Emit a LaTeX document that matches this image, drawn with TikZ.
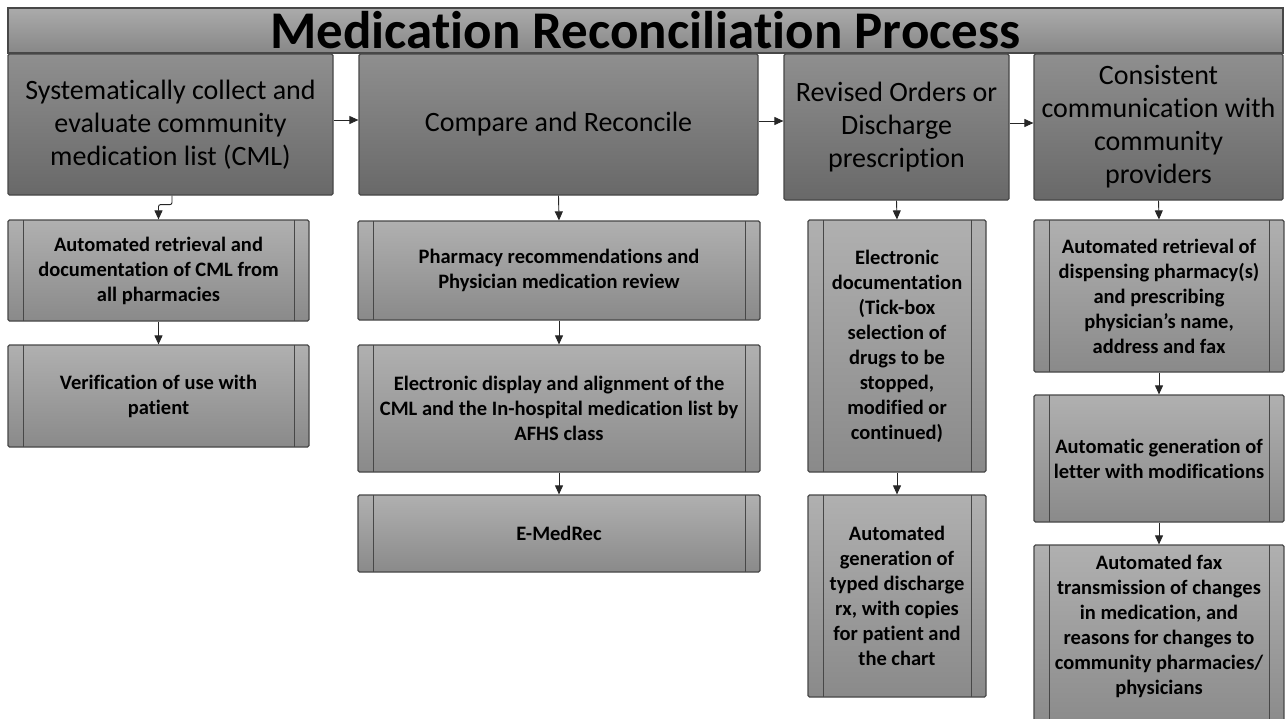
\documentclass[tikz,border=0pt]{standalone}
\usepackage{fontspec}
\setmainfont{Carlito}[Ligatures={NoCommon}]
\usetikzlibrary{arrows.meta,calc}
\begin{document}
\begin{tikzpicture}[x=1pt,y=-1pt,
  boxedge/.style={draw=black!72, line width=1.2pt},
  titlebox/.style={boxedge, top color=black!33, bottom color=black!47, minimum width=1275pt, minimum height=45pt, inner sep=0pt, font=\fontsize{53}{53}\selectfont\bfseries},
  mainbox/.style={boxedge, rounded corners=1.5pt, top color=black!44, bottom color=black!59, align=center, inner sep=2pt, font=\fontsize{28}{33}\selectfont},
  subbox/.style={boxedge, rounded corners=1.5pt, top color=black!31, bottom color=black!46, align=center, inner sep=2pt, font=\fontsize{20.5}{25}\selectfont\bfseries,
    path picture={
      \draw[draw=black!72, line width=1pt] ([xshift=15pt]path picture bounding box.north west) -- ([xshift=15pt]path picture bounding box.south west);
      \draw[draw=black!72, line width=1pt] ([xshift=-15pt]path picture bounding box.north east) -- ([xshift=-15pt]path picture bounding box.south east);
    }},
  arr/.style={draw=black!85, line width=0.9pt, -{Triangle[length=9pt,width=8pt]}}
]
\useasboundingbox (0,0) rectangle (1285,718);
\fill[white] (0,0) rectangle (1285,718);

% title
\node[titlebox] (title) at (645.5,30.5) {Medication Reconciliation Process};

% main steps
\node[mainbox, minimum width=325pt, minimum height=141pt] (T1) at (170.5,124.5) {Systematically collect and\\evaluate community\\medication list (CML)};
\node[mainbox, minimum width=399pt, minimum height=141pt] (T2) at (558.5,124.5) {Compare and Reconcile};
\node[mainbox, minimum width=225pt, minimum height=146pt] (T3) at (896.5,127) {Revised Orders or\\Discharge\\prescription};
\node[mainbox, minimum width=249pt, minimum height=146pt] (T4) at (1158.5,127) {Consistent\\communication with\\community\\providers};

% column 1
\node[subbox, minimum width=301pt, minimum height=101pt] (S11) at (158.5,270.5) {Automated retrieval and\\documentation of CML from\\all pharmacies};
\node[subbox, minimum width=301pt, minimum height=102pt] (S12) at (158.5,396) {Verification of use with\\patient};

% column 2
\node[subbox, minimum width=402pt, minimum height=99pt] (S21) at (559,270.5) {Pharmacy recommendations and\\Physician medication review};
\node[subbox, minimum width=402pt, minimum height=127pt] (S22) at (559,408.5) {Electronic display and alignment of the\\CML and the In-hospital medication list by\\AFHS class};
\node[subbox, minimum width=402pt, minimum height=77pt] (S23) at (559,533.5) {E-MedRec};

% column 3
\node[subbox, minimum width=178pt, minimum height=252pt] (S31) at (897,346) {Electronic\\documentation\\(Tick-box\\selection of\\drugs to be\\stopped,\\modified or\\continued)};
\node[subbox, minimum width=178pt, minimum height=202pt] (S32) at (897,596) {Automated\\generation of\\typed discharge\\rx, with copies\\for patient and\\the chart};

% column 4
\node[subbox, minimum width=250pt, minimum height=152pt] (S41) at (1159,296) {Automated retrieval of\\dispensing pharmacy(s)\\and prescribing\\physician’s name,\\address and fax};
\node[subbox, minimum width=250pt, minimum height=127pt] (S42) at (1159,458.5) {Automatic generation of\\letter with modifications};
\node[subbox, minimum width=250pt, minimum height=185pt] (S43) at (1159,637.5) {Automated fax\\transmission of changes\\in medication, and\\reasons for changes to\\community pharmacies/\\physicians\\\mbox{}};

% horizontal connectors
\draw[arr] ([yshift=4.5pt]T1.east) -- ([yshift=4.5pt]T2.west);
\draw[arr] ([yshift=3.5pt]T2.east) -- ([yshift=3.5pt]T2.east -| T3.west);
\draw[arr] ([yshift=4pt]T3.east) -- ([yshift=4pt]T4.west);

% vertical connectors
\draw[arr, rounded corners=2pt] ([xshift=1.5pt]T1.south) -- ++(0,9) -| (S11.north);
\draw[arr] (S11.south) -- (S12.north);
\draw[arr] (T2.south) -- (S21.north);
\draw[arr] (S21.south) -- (S22.north);
\draw[arr] (S22.south) -- (S23.north);
\draw[arr] (T3.south) -- (S31.north);
\draw[arr] (S31.south) -- (S32.north);
\draw[arr] (T4.south) -- (S41.north);
\draw[arr] (S41.south) -- (S42.north);
\draw[arr] (S42.south) -- (S43.north);
\end{tikzpicture}
\end{document}
